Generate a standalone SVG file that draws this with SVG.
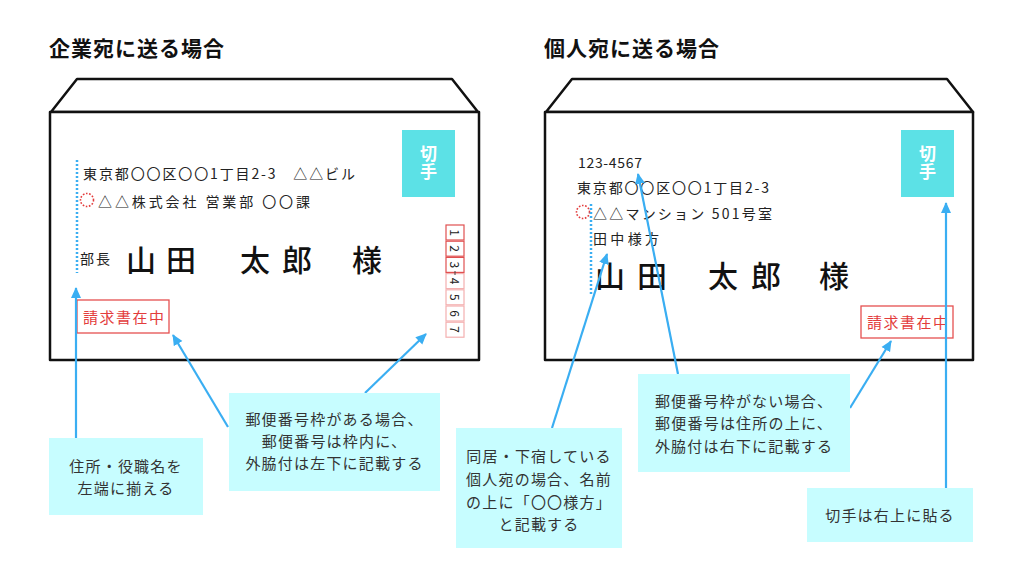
<svg xmlns="http://www.w3.org/2000/svg" width="1024" height="576" viewBox="0 0 1024 576">
<defs>
<style>
text{font-family:"Noto Sans CJK JP","Noto Sans",sans-serif;}
.title{font-size:21px;font-weight:700;fill:#111;}
.env{fill:#fff;stroke:#111;stroke-width:2.5;stroke-linejoin:round;}
.stamp{fill:#5CE1E6;}
.stxt{font-size:17px;font-weight:700;fill:#fff;text-anchor:middle;writing-mode:vertical-rl;letter-spacing:1px;}
.addr{font-size:14px;fill:#222;}
.big{font-size:30px;fill:#111;font-weight:500;}
.red{font-size:15px;fill:#E33C3C;}
.redbox{fill:none;stroke:#E55050;stroke-width:1.3;}
.dot{fill:none;stroke:#E33C3C;stroke-width:1.6;stroke-dasharray:1.6 1.6;}
.vdot{stroke:#3AAEF2;stroke-width:2.5;stroke-dasharray:2 2;}
.zip1{fill:#fff;stroke:#E05050;stroke-width:1.2;}
.zip2{fill:#fff;stroke:#F4B0B0;stroke-width:1.2;}
.zd{font-size:12px;fill:#222;text-anchor:middle;dominant-baseline:central;}
.note{fill:#C7FDFF;}
.ntxt{font-size:15px;fill:#333;text-anchor:middle;letter-spacing:1.2px;}
.conn{stroke:#3AAEF2;stroke-width:2.2;fill:none;}
</style>
<marker id="ah" markerUnits="userSpaceOnUse" markerWidth="12" markerHeight="12" refX="10" refY="6" orient="auto">
<path d="M0,1 L11,6 L0,11 Z" fill="#3AAEF2"/>
</marker>
</defs>
<rect width="1024" height="576" fill="#fff"/>

<text class="title" x="49" y="56" textLength="175" lengthAdjust="spacing">企業宛に送る場合</text>
<text class="title" x="544" y="56" textLength="175" lengthAdjust="spacing">個人宛に送る場合</text>

<g id="envelope-left">
<path class="env" d="M51,112 L77,79 L452,79 L478,112 Z"/>
<rect class="env" x="50" y="112" width="429" height="248"/>
<g id="stamp-left">
<rect class="stamp" x="402" y="130" width="53" height="67"/>
<text class="stxt" x="428.5" y="163.5">切手</text>
</g>
<line class="vdot" x1="77" y1="160" x2="77" y2="273"/>
<text class="addr" x="83" y="179" textLength="272" lengthAdjust="spacing">東京都〇〇区〇〇1丁目2-3　△△ビル</text>
<circle class="dot" cx="87" cy="200" r="6.5"/>
<text class="addr" x="98" y="207" textLength="212" lengthAdjust="spacing">△△株式会社 営業部 〇〇課</text>
<text class="addr" x="80" y="264" textLength="30" lengthAdjust="spacing">部長</text>
<text class="big" x="126 166 240 282 352" y="271">山田太郎様</text>
<rect class="redbox" x="77" y="300" width="92" height="33"/>
<text class="red" x="83" y="323" textLength="81" lengthAdjust="spacing">請求書在中</text>
<g id="zip-boxes">
<rect class="zip1" x="446" y="225" width="18" height="15"/>
<rect class="zip1" x="446" y="241.2" width="18" height="15"/>
<rect class="zip1" x="446" y="257.4" width="18" height="15"/>
<rect class="zip2" x="446" y="273.6" width="18" height="15"/>
<rect class="zip2" x="446" y="289.8" width="18" height="15"/>
<rect class="zip2" x="446" y="306" width="18" height="15"/>
<rect class="zip2" x="446" y="322.2" width="18" height="15"/>
<line x1="455" y1="271" x2="455" y2="275" stroke="#444" stroke-width="1"/>
<text class="zd" transform="translate(455,232.5) rotate(90)">1</text>
<text class="zd" transform="translate(455,248.7) rotate(90)">2</text>
<text class="zd" transform="translate(455,264.9) rotate(90)">3</text>
<text class="zd" transform="translate(455,281.1) rotate(90)">4</text>
<text class="zd" transform="translate(455,297.3) rotate(90)">5</text>
<text class="zd" transform="translate(455,313.5) rotate(90)">6</text>
<text class="zd" transform="translate(455,329.7) rotate(90)">7</text>
</g>
</g>

<g id="envelope-right">
<path class="env" d="M546,112 L572,79 L947,79 L973,112 Z"/>
<rect class="env" x="545" y="112" width="428" height="248"/>
<g id="stamp-right">
<rect class="stamp" x="901" y="130" width="53" height="67"/>
<text class="stxt" x="927.5" y="163.5">切手</text>
</g>
<text class="addr" x="578" y="168" textLength="64" lengthAdjust="spacing">123-4567</text>
<text class="addr" x="577" y="193" textLength="192" lengthAdjust="spacing">東京都〇〇区〇〇1丁目2-3</text>
<circle class="dot" cx="583" cy="212" r="6.5"/>
<line class="vdot" x1="591" y1="204" x2="591" y2="295"/>
<text class="addr" x="593" y="219" textLength="179" lengthAdjust="spacing">△△マンション 501号室</text>
<text class="addr" x="593" y="244" textLength="66" lengthAdjust="spacing">田中様方</text>
<text class="big" x="595 637 708 751 819" y="287">山田太郎様</text>
<rect class="redbox" x="861" y="306" width="92" height="32"/>
<text class="red" x="867" y="328" textLength="81" lengthAdjust="spacing">請求書在中</text>
</g>

<g id="connectors">
<line class="conn" x1="76" y1="438" x2="76" y2="288" marker-end="url(#ah)"/>
<line class="conn" x1="228" y1="427" x2="173" y2="335" marker-end="url(#ah)"/>
<line class="conn" x1="365" y1="393" x2="426" y2="334" marker-end="url(#ah)"/>
<line class="conn" x1="552" y1="428" x2="607" y2="254" marker-end="url(#ah)"/>
<line class="conn" x1="678" y1="374" x2="638" y2="174" marker-end="url(#ah)"/>
<line class="conn" x1="850" y1="408" x2="891" y2="341" marker-end="url(#ah)"/>
<line class="conn" x1="946" y1="488" x2="946" y2="203" marker-end="url(#ah)"/>
</g>

<g id="note-align">
<rect class="note" x="49" y="438" width="154" height="77"/>
<text class="ntxt" x="126" y="472">住所・役職名を</text>
<text class="ntxt" x="126" y="494">左端に揃える</text>
</g>
<g id="note-zipframe">
<rect class="note" x="229" y="393" width="211" height="98"/>
<text class="ntxt" x="334.5" y="425">郵便番号枠がある場合、</text>
<text class="ntxt" x="334.5" y="447">郵便番号は枠内に、</text>
<text class="ntxt" x="334.5" y="469">外脇付は左下に記載する</text>
</g>
<g id="note-care-of">
<rect class="note" x="456" y="428" width="166" height="120"/>
<text class="ntxt" x="539" y="462">同居・下宿している</text>
<text class="ntxt" x="539" y="485">個人宛の場合、名前</text>
<text class="ntxt" x="539" y="508">の上に「〇〇様方」</text>
<text class="ntxt" x="539" y="530">と記載する</text>
</g>
<g id="note-nozip">
<rect class="note" x="638" y="374" width="212" height="98"/>
<text class="ntxt" x="744" y="407">郵便番号枠がない場合、</text>
<text class="ntxt" x="744" y="429">郵便番号は住所の上に、</text>
<text class="ntxt" x="744" y="452">外脇付は右下に記載する</text>
</g>
<g id="note-stamp">
<rect class="note" x="807" y="488" width="166" height="54"/>
<text class="ntxt" x="890" y="521">切手は右上に貼る</text>
</g>
</svg>
